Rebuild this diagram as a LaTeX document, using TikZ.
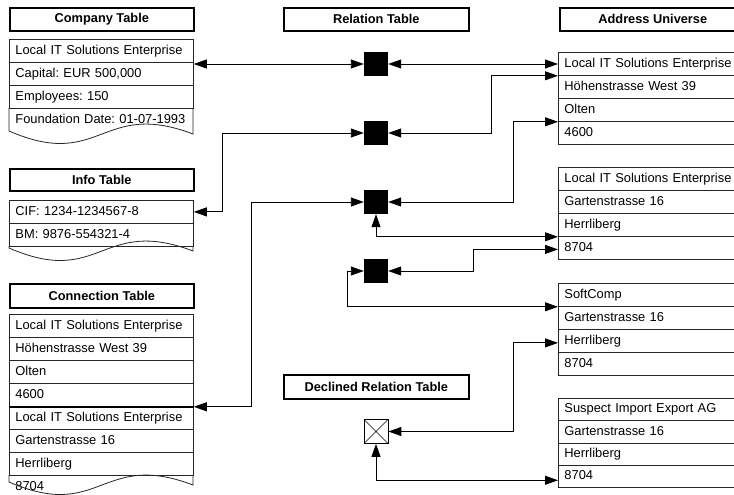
\documentclass[tikz,border=0pt]{standalone}
\usepackage{fontspec}
\setmainfont{Liberation Sans}
\usetikzlibrary{arrows.meta}
\newcommand\docwave[2]{%
  \draw[tblline] (9,#1) -- (9,#2) .. controls (101,#2+40) and (101,#2-32) .. (193,#2+3) -- (193,#1);}
\begin{document}
\frenchspacing
\begin{tikzpicture}[x=1pt,y=-1pt,
  tblline/.style={line width=0.8pt, draw=black!85},
  hdr/.style={draw, line width=1.6pt, minimum width=184pt, minimum height=23pt, inner sep=0pt,
    font=\fontsize{12.8}{15}\selectfont\bfseries, anchor=north west},
  cell/.style={tblline, minimum width=184pt, minimum height=#1, text width=172pt, inner xsep=6pt,
    inner ysep=0pt, anchor=north west, align=left, text height=9.4pt, text depth=2.6pt,
    font=\fontsize{12.9}{15}\selectfont\frenchspacing},
  cell/.default=23pt,
  hidden/.style={cell, draw=none},
  sq/.style={fill=black, minimum size=24pt, inner sep=0pt},
  xbox/.style={draw, line width=0.8pt, fill=white, minimum size=24pt, inner sep=0pt,
    path picture={\draw[line width=0.6pt] (path picture bounding box.north west) -- (path picture bounding box.south east)
      (path picture bounding box.north east) -- (path picture bounding box.south west);}},
  conn/.style={draw, line width=0.9pt, {Triangle[length=13pt,width=9pt]}-{Triangle[length=13pt,width=9pt]}}
]
\useasboundingbox (0,0) rectangle (734,495);
\clip (0,0) rectangle (734,495);

% headers
\node[hdr] (hcomp) at (9,7) {Company Table};
\node[hdr, minimum width=185pt] (hrel) at (283,7) {Relation Table};
\node[hdr, minimum width=186pt] (haddr) at (559,7) {Address Universe};
\node[hdr, minimum height=22pt] (hinfo) at (9,168) {Info Table};
\node[hdr, minimum height=24pt] (hconn) at (9,283) {Connection Table};
\node[hdr, minimum width=185pt, minimum height=24pt] (hdecl) at (283,374) {Declined Relation Table};

% company table
\node[cell] (co1) at (9,39) {Local IT Solutions Enterprise};
\node[cell] (co2) at (9,62) {Capital: EUR 500,000};
\node[cell] (co3) at (9,85) {Employees: 150};
\node[hidden] (co4) at (9,108) {\mbox{Foundation Date: 01-07-1993}};
\docwave{108}{131}

% info table
\node[cell] (in1) at (9,200) {CIF: 1234-1234567-8};
\node[cell] (in2) at (9,223) {BM: 9876-554321-4};
\docwave{246}{248}

% connection table
\node[cell] (cn1) at (9,314) {Local IT Solutions Enterprise};
\node[cell] (cn2) at (9,337) {Höhenstrasse West 39};
\node[cell] (cn3) at (9,360) {Olten};
\node[cell] (cn4) at (9,383) {4600};
\node[cell] (cn5) at (9,406) {Local IT Solutions Enterprise};
\node[cell] (cn6) at (9,429) {Gartenstrasse 16};
\node[cell] (cn7) at (9,452) {Herrliberg};
\node[hidden] (cn8) at (9,475) {8704};
\docwave{475}{482}
\draw[line width=1.6pt] (cn4.south west) -- (cn4.south east);

% address universe tables
\node[cell] (a1) at (558,52) {Local IT Solutions Enterprise};
\node[cell] (a2) at (558,75) {Höhenstrasse West 39};
\node[cell] (a3) at (558,98) {Olten};
\node[cell] (a4) at (558,121) {4600};

\node[cell] (b1) at (558,167) {Local IT Solutions Enterprise};
\node[cell] (b2) at (558,190) {Gartenstrasse 16};
\node[cell] (b3) at (558,213) {Herrliberg};
\node[cell] (b4) at (558,236) {8704};

\node[cell] (c1) at (558,283) {SoftComp};
\node[cell] (c2) at (558,306) {Gartenstrasse 16};
\node[cell] (c3) at (558,329) {Herrliberg};
\node[cell] (c4) at (558,352) {8704};

\node[cell=22.25pt] (d1) at (558,398) {Suspect Import Export AG};
\node[cell=22.25pt] (d2) at (558,420.25) {Gartenstrasse 16};
\node[cell=22.25pt] (d3) at (558,442.5) {Herrliberg};
\node[cell=22.25pt] (d4) at (558,464.75) {8704};

% relation nodes
\node[sq] (s1) at (376,64) {};
\node[sq] (s2) at (376,133) {};
\node[sq] (s3) at (376,202) {};
\node[sq] (s4) at (376,271) {};
\node[xbox] (x1) at (376,431.5) {};

% routing coordinates
\coordinate (k2l) at (222,0);
\coordinate (k2r) at (491,0);
\coordinate (k3l) at (251,0);
\coordinate (k3r) at (513,0);
\coordinate (k4r) at (473,0);
\coordinate (k4l) at (347,0);
\coordinate (tb4) at ([yshift=-1.5pt]b4.west);
\coordinate (tc3) at ([yshift=-2pt]c3.west);
\coordinate (td4) at ([yshift=-4pt]d4.west);

% connectors
\draw[conn] (s1.west -| co2.east) -- (s1.west);
\draw[conn] (s1.east) -- (s1.east -| a1.west);

\draw[conn] (in1.east) -| (k2l |- s2.west) -- (s2.west);
\draw[conn] (s2.east) -| (k2r |- a1.south west) -- (a1.south west);

\draw[conn] (cn4.south east) -| (k3l |- s3.west) -- (s3.west);
\draw[conn] (s3.east) -| (k3r |- a3.south west) -- (a3.south west);
\draw[conn] (s3.south) |- (b3.south west);

\draw[conn] (s4.east) -| (k4r |- tb4) -- (tb4);
\draw[conn] (s4.west) -- (s4.west -| k4l) |- (c1.south west);

\draw[conn] (x1.east) -| (k3r |- tc3) -- (tc3);
\draw[conn] (x1.south) |- (td4);
\end{tikzpicture}
\end{document}
